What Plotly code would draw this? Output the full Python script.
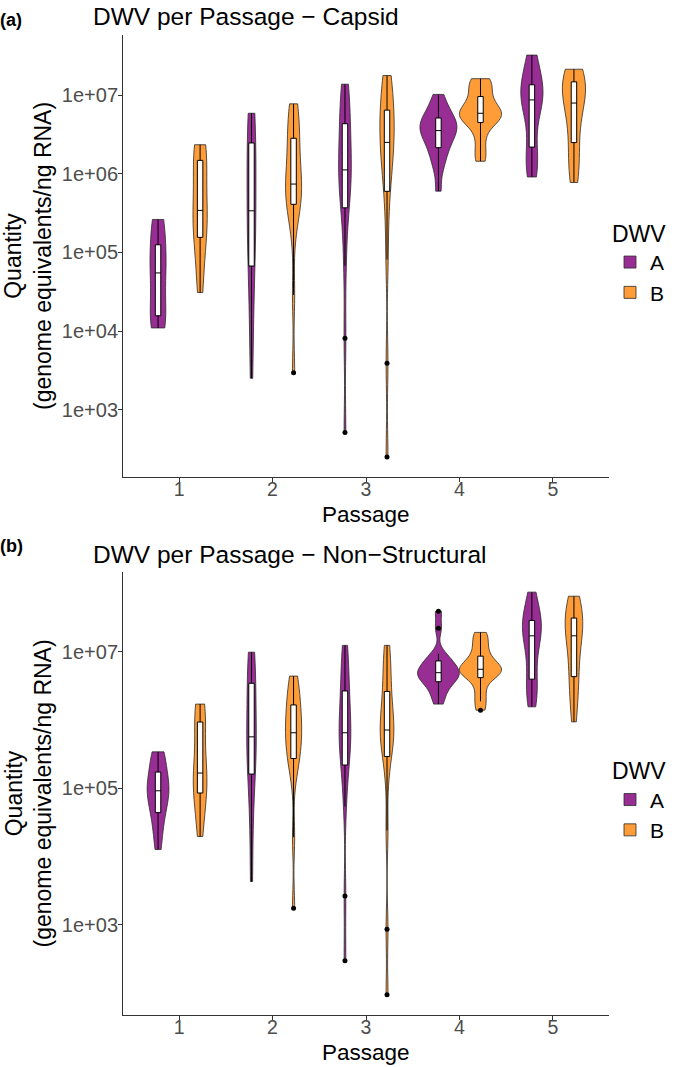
import numpy as np
import plotly.graph_objects as go

W, H = 685, 1067

passages = [1, 2, 3, 4, 5]
groups = ["A", "B"]
colors = {"A": "#982D94", "B": "#FE9C37"}

# Samples: log10(genome equivalents / ng RNA), one list per passage 1..5
capsid_A_log10 = [
    [4.04, 4.06, 4.12, 4.22, 4.40, 4.60, 4.74, 4.85, 4.95, 5.03, 5.30, 5.38, 5.42],
    [3.40, 4.05, 4.55, 4.92, 5.15, 5.35, 5.53, 5.80, 6.05, 6.34, 6.55, 6.70, 6.77],
    [2.71, 3.91, 4.83, 5.35, 5.64, 5.78, 5.88, 5.97, 6.05, 6.15, 6.30, 6.45, 6.60, 6.75, 6.90, 7.02, 7.14],
    [5.78, 6.06, 6.18, 6.28, 6.35, 6.42, 6.48, 6.52, 6.55, 6.59, 6.62, 6.66, 6.70, 6.74, 6.80, 6.90, 7.01],
    [5.96, 6.05, 6.15, 6.22, 6.38, 6.65, 6.85, 6.90, 6.94, 6.98, 7.02, 7.06, 7.11, 7.20, 7.30, 7.42, 7.51],
]
capsid_B_log10 = [
    [4.49, 4.75, 5.05, 5.24, 5.35, 5.45, 5.535, 5.70, 5.95, 6.145, 6.25, 6.33, 6.37],
    [3.47, 4.46, 5.33, 5.50, 5.65, 5.72, 5.78, 5.83, 5.87, 6.00, 6.15, 6.30, 6.42, 6.55, 6.68, 6.80, 6.89],
    [2.40, 3.59, 4.91, 5.50, 5.87, 6.05, 6.18, 6.30, 6.40, 6.50, 6.60, 6.70, 6.78, 6.90, 7.05, 7.18, 7.25],
    [6.16, 6.28, 6.45, 6.60, 6.67, 6.70, 6.73, 6.75, 6.77, 6.80, 6.84, 6.90, 6.96, 7.05, 7.12, 7.18, 7.21],
    [5.89, 6.00, 6.15, 6.30, 6.43, 6.60, 6.75, 6.85, 6.90, 6.98, 7.05, 7.10, 7.16, 7.20, 7.25, 7.30, 7.33],
]
nonstruct_A_log10 = [
    [4.10, 4.35, 4.55, 4.67, 4.80, 4.90, 4.96, 5.02, 5.10, 5.195, 5.35, 5.48, 5.53],
    [3.63, 4.40, 4.95, 5.29, 5.45, 5.60, 5.75, 5.95, 6.20, 6.48, 6.70, 6.88, 6.99],
    [2.47, 3.42, 4.73, 5.15, 5.40, 5.55, 5.65, 5.73, 5.81, 5.92, 6.05, 6.22, 6.38, 6.55, 6.75, 6.95, 7.09],
    [6.23, 6.35, 6.45, 6.52, 6.57, 6.61, 6.64, 6.67, 6.69, 6.72, 6.76, 6.80, 6.85, 6.90, 6.97, 7.34, 7.59],
    [6.19, 6.30, 6.42, 6.52, 6.62, 6.85, 7.05, 7.15, 7.23, 7.30, 7.35, 7.40, 7.44, 7.50, 7.60, 7.72, 7.87],
]
nonstruct_B_log10 = [
    [4.29, 4.55, 4.80, 4.97, 5.05, 5.15, 5.22, 5.40, 5.65, 5.94, 6.05, 6.15, 6.23],
    [3.24, 4.28, 5.22, 5.35, 5.46, 5.58, 5.68, 5.75, 5.81, 5.90, 6.00, 6.10, 6.19, 6.30, 6.42, 6.55, 6.64],
    [1.97, 2.93, 4.38, 5.20, 5.55, 5.65, 5.72, 5.79, 5.85, 5.95, 6.05, 6.20, 6.37, 6.55, 6.75, 6.95, 7.09],
    [6.14, 6.27, 6.40, 6.55, 6.64, 6.67, 6.70, 6.72, 6.74, 6.77, 6.80, 6.85, 6.91, 7.00, 7.10, 7.20, 7.28],
    [5.97, 6.20, 6.40, 6.55, 6.66, 6.85, 7.00, 7.12, 7.23, 7.32, 7.40, 7.44, 7.47, 7.55, 7.65, 7.75, 7.81],
]

panel_titles = ["DWV per Passage \u2212 Capsid", "DWV per Passage \u2212 Non\u2212Structural"]
panel_tags = ["(a)", "(b)"]
ytick_exps = [[3, 4, 5, 6, 7], [3, 5, 7]]
x_title = "Passage"
y_title = "Quantity<br>(genome equivalents/ng RNA)"
legend_title = "DWV"

panels = [
    {"A": capsid_A_log10, "B": capsid_B_log10},
    {"A": nonstruct_A_log10, "B": nonstruct_B_log10},
]

# pixel layout
PX_L, PX_R = 123, 609
PANEL_TB = [(35, 477), (572, 1015)]


def xp(px):
    return px / W


def yp(py):
    return 1 - py / H


def nrd0(v):
    v = np.asarray(v, dtype=float)
    sd = np.std(v, ddof=1)
    iqr = np.percentile(v, 75) - np.percentile(v, 25)
    lo = min(sd, iqr / 1.34)
    if lo <= 0:
        lo = sd
    return 0.9 * lo * len(v) ** (-0.2)


fig = go.Figure()

for k, pdata in enumerate(panels):
    xa = "x" if k == 0 else "x2"
    ya = "y" if k == 0 else "y2"
    leg = "legend" if k == 0 else "legend2"
    for g in groups:
        for i, p in enumerate(passages):
            vals = pdata[g][i]
            fig.add_trace(go.Violin(
                x=[p] * len(vals), y=vals,
                name=g, legendgroup=f"{g}{k}", showlegend=(i == 0), legend=leg,
                offsetgroup=g, alignmentgroup=f"panel{k}",
                scalegroup=f"panel{k}", scalemode="width", spanmode="hard",
                bandwidth=nrd0(vals),
                fillcolor=colors[g], line=dict(color="#2b2b2b", width=0.8),
                box=dict(visible=True, width=0.13, fillcolor="white",
                         line=dict(color="black", width=1)),
                meanline=dict(visible=False),
                points="outliers", pointpos=0, jitter=0,
                marker=dict(color="black", size=5, line=dict(width=0)),
                hoverinfo="skip",
                xaxis=xa, yaxis=ya,
            ))

layout = dict(
    width=W, height=H,
    margin=dict(l=0, r=0, t=0, b=0),
    paper_bgcolor="white", plot_bgcolor="white",
    font=dict(family="Liberation Sans, Arial, sans-serif", color="black"),
    violinmode="group", violingap=0.1, violingroupgap=0,
    showlegend=True,
)

annotations = []
for k, pdata in enumerate(panels):
    top, bot = PANEL_TB[k]
    allv = np.concatenate([np.concatenate(pdata[g]) for g in groups])
    lo, hi = allv.min(), allv.max()
    pad = 0.05 * (hi - lo)
    sfx = "" if k == 0 else "2"
    layout["xaxis" + sfx] = dict(
        domain=[xp(PX_L), xp(PX_R)], anchor="y" + sfx,
        range=[0.4, 5.6], tickmode="array", tickvals=passages,
        ticktext=[str(p) for p in passages],
        showline=True, linecolor="#333333", linewidth=1,
        ticks="outside", ticklen=4, tickcolor="#333333", tickwidth=1,
        ticklabelstandoff=-9,
        tickfont=dict(size=19.5, color="#4D4D4D"),
        showgrid=False, zeroline=False, fixedrange=True,
    )
    layout["yaxis" + sfx] = dict(
        domain=[yp(bot), yp(top)], anchor="x" + sfx,
        range=[lo - pad, hi + pad], tickmode="array",
        tickvals=ytick_exps[k], ticktext=[f"1e+{e:02d}" for e in ytick_exps[k]],
        showline=True, linecolor="#333333", linewidth=1,
        ticks="outside", ticklen=4, tickcolor="#333333", tickwidth=1,
        ticklabelstandoff=-4,
        tickfont=dict(size=20, color="#4D4D4D"),
        showgrid=False, zeroline=False, fixedrange=True,
    )
    off = 0 if k == 0 else 537
    mid = (top + bot) / 2
    # panel tag
    annotations.append(dict(text=f"<b>{panel_tags[k]}</b>", x=xp(-2), y=yp(20 + off - (11 if k else 0)),
                            xref="paper", yref="paper", xanchor="left", yanchor="middle",
                            showarrow=False, font=dict(size=18, color="black")))
    # title
    annotations.append(dict(text=panel_titles[k], x=xp(91), y=yp(17 + off),
                            xref="paper", yref="paper", xanchor="left", yanchor="middle",
                            showarrow=False, font=dict(size=24.5, color="black")))
    # x title
    annotations.append(dict(text=x_title, x=xp((PX_L + PX_R) / 2), y=yp(bot + 37),
                            xref="paper", yref="paper", xanchor="center", yanchor="middle",
                            showarrow=False, font=dict(size=22.5, color="black")))
    # y title
    annotations.append(dict(text=y_title, x=xp(28), y=yp(mid), textangle=-90,
                            xref="paper", yref="paper", xanchor="center", yanchor="middle",
                            showarrow=False, font=dict(size=23, color="black")))
    legkey = "legend" if k == 0 else "legend2"
    layout[legkey] = dict(
        title=dict(text=legend_title, font=dict(size=23, color="black")),
        font=dict(size=21, color="black"),
        x=xp(610), y=yp(mid - 44), xanchor="left", yanchor="top",
        bgcolor="rgba(0,0,0,0)", tracegroupgap=0,
    )

layout["annotations"] = annotations
fig.update_layout(**layout)

# the page's default body margin would shift the fixed-size figure; remove it
fig.write_html("out.html", config={"displayModeBar": False},
               post_script="document.body.style.margin='0';")
